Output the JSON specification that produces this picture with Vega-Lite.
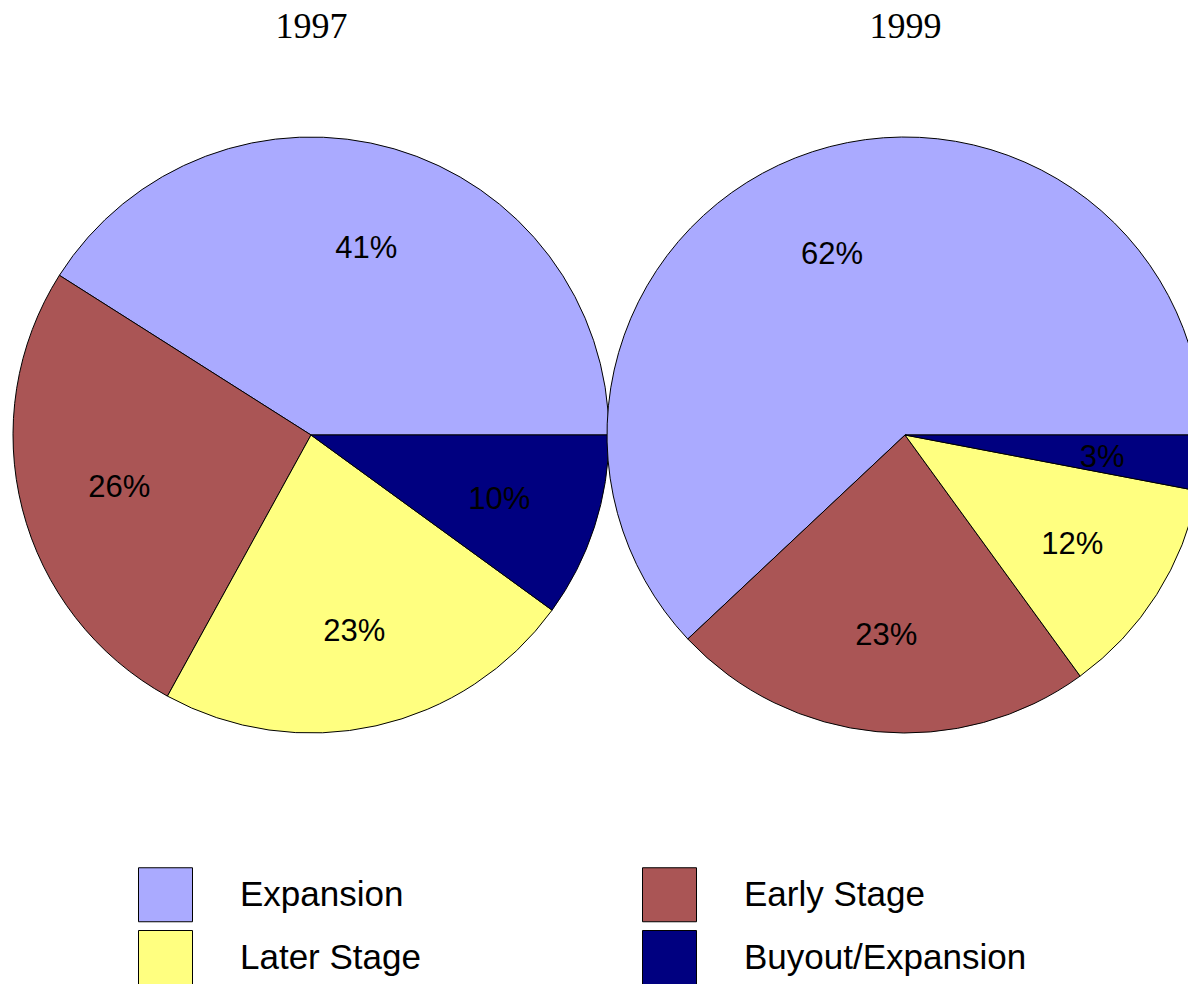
{
  "$schema": "https://vega.github.io/schema/vega-lite/v6.json",
  "width": 1188,
  "height": 600,
  "padding": {"left": 0, "right": 0, "top": 8, "bottom": 0},
  "autosize": {"type": "pad"},
  "background": "white",
  "config": {"view": {"stroke": null}},
  "data": {
    "values": [
      {"year": "1997", "category": "Expansion", "value": 0.41, "o": 1},
      {"year": "1997", "category": "Early Stage", "value": 0.26, "o": 2},
      {"year": "1997", "category": "Later Stage", "value": 0.23, "o": 3},
      {"year": "1997", "category": "Buyout/Expansion", "value": 0.10, "o": 4},
      {"year": "1999", "category": "Expansion", "value": 0.62, "o": 1},
      {"year": "1999", "category": "Early Stage", "value": 0.23, "o": 2},
      {"year": "1999", "category": "Later Stage", "value": 0.12, "o": 3},
      {"year": "1999", "category": "Buyout/Expansion", "value": 0.03, "o": 4}
    ]
  },
  "encoding": {
    "x": {
      "field": "year",
      "type": "nominal",
      "scale": {"type": "point", "domain": ["1997", "1999"], "range": [311, 905], "padding": 0},
      "axis": {
        "orient": "top",
        "title": null,
        "domain": false,
        "ticks": false,
        "tickSize": 0,
        "grid": false,
        "labelAngle": 0,
        "labelPadding": 90,
        "labelFont": "Liberation Serif",
        "labelFontSize": 36,
        "labelColor": "black"
      }
    },
    "theta": {
      "field": "value",
      "type": "quantitative",
      "stack": true,
      "scale": {"domain": [0, 1], "range": [1.5708, -4.7124]}
    },
    "order": {"field": "o", "type": "quantitative"}
  },
  "layer": [
    {
      "transform": [{"filter": "datum.year == '1997'"}],
      "layer": [
        {
          "mark": {"type": "arc", "outerRadius": 298, "stroke": "black", "strokeWidth": 1, "clip": true},
          "encoding": {
            "color": {
              "field": "category",
              "type": "nominal",
              "scale": {
                "domain": ["Expansion", "Early Stage", "Later Stage", "Buyout/Expansion"],
                "range": ["#aaaaff", "#aa5555", "#ffff80", "#000080"]
              },
              "legend": {
                "orient": "none",
                "legendX": 138,
                "legendY": 732,
                "direction": "horizontal",
                "columns": 2,
                "title": null,
                "symbolType": "square",
                "symbolSize": 2916,
                "symbolStrokeColor": "black",
                "symbolStrokeWidth": 1,
                "symbolOpacity": 1,
                "labelFont": "Liberation Sans",
                "labelFontSize": 35,
                "labelColor": "black",
                "labelOffset": 47,
                "labelLimit": 600,
                "rowPadding": 4,
                "columnPadding": 219
              }
            }
          }
        },
        {
          "mark": {"type": "text", "radius": 198, "fontSize": 31, "font": "Liberation Sans", "color": "black", "dy": 4},
          "encoding": {
            "text": {"field": "value", "type": "quantitative", "format": ".0%"},
            "detail": {"field": "category", "type": "nominal"}
          }
        }
      ]
    },
    {
      "transform": [{"filter": "datum.year == '1999'"}],
      "layer": [
        {
          "mark": {"type": "arc", "outerRadius": 298, "stroke": "black", "strokeWidth": 1, "clip": true},
          "encoding": {
            "color": {
              "field": "category",
              "type": "nominal",
              "scale": {
                "domain": ["Expansion", "Early Stage", "Later Stage", "Buyout/Expansion"],
                "range": ["#aaaaff", "#aa5555", "#ffff80", "#000080"]
              },
              "legend": {
                "orient": "none",
                "legendX": 138,
                "legendY": 732,
                "direction": "horizontal",
                "columns": 2,
                "title": null,
                "symbolType": "square",
                "symbolSize": 2916,
                "symbolStrokeColor": "black",
                "symbolStrokeWidth": 1,
                "symbolOpacity": 1,
                "labelFont": "Liberation Sans",
                "labelFontSize": 35,
                "labelColor": "black",
                "labelOffset": 47,
                "labelLimit": 600,
                "rowPadding": 4,
                "columnPadding": 219
              }
            }
          }
        },
        {
          "mark": {"type": "text", "radius": 198, "fontSize": 31, "font": "Liberation Sans", "color": "black", "dy": 4},
          "encoding": {
            "text": {"field": "value", "type": "quantitative", "format": ".0%"},
            "detail": {"field": "category", "type": "nominal"}
          }
        }
      ]
    }
  ]
}
